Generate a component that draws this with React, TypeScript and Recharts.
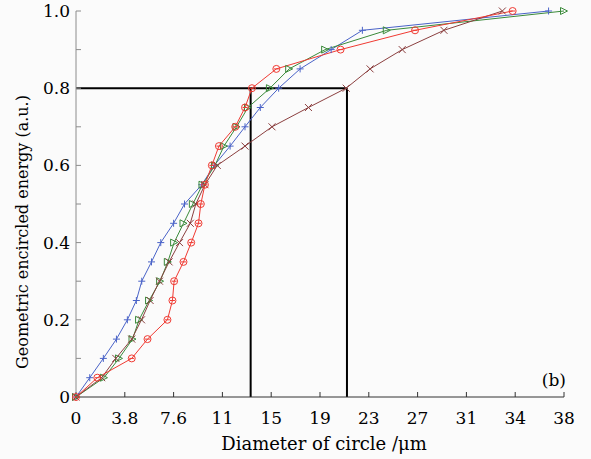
import React from 'react';
import { LineChart, Line, XAxis, YAxis, ReferenceLine, Label } from 'recharts';

// encircled energy levels shared by every curve
const energyLevels = [
  0, 0.05, 0.1, 0.15, 0.2, 0.25, 0.3, 0.35, 0.4, 0.45, 0.5,
  0.55, 0.6, 0.65, 0.7, 0.75, 0.8, 0.85, 0.9, 0.95, 1.0,
];

// diameter (um) reached at each energy level
const blueDiameters = [
  0, 1.07, 2.13, 3.15, 4.0, 4.7, 5.12, 5.88, 6.6, 7.6, 8.45,
  9.8, 10.76, 12.0, 13.16, 14.35, 15.78, 17.45, 19.87, 22.3, 36.8,
];
const redDiameters = [
  0, 1.66, 4.34, 5.57, 7.12, 7.51, 7.64, 8.37, 8.97, 9.54, 9.72,
  10.04, 10.58, 11.13, 12.4, 13.16, 13.7, 15.6, 20.6, 26.4, 34.0,
];
const greenDiameters = [
  0, 2.18, 3.35, 4.4, 4.91, 5.69, 6.55, 7.15, 7.64, 8.37, 9.1,
  9.85, 10.82, 11.52, 12.5, 13.39, 15.1, 16.6, 19.4, 24.2, 38.0,
];
const brownDiameters = [
  0, 2.0, 3.1, 4.34, 5.1, 5.77, 6.5, 7.25, 8.06, 8.9, 9.33,
  10.04, 11.0, 13.16, 15.26, 18.1, 21.04, 22.9, 25.4, 28.65, 33.2,
];

const xTicks = [0, 3.8, 7.6, 11.4, 15.2, 19, 22.8, 26.6, 30.4, 34.2, 38];
const xTickLabels = ['0', '3.8', '7.6', '11', '15', '19', '23', '27', '31', '34', '38'];
const yTicks = [0, 0.1, 0.2, 0.3, 0.4, 0.5, 0.6, 0.7, 0.8, 0.9, 1.0];
const yTickLabels = ['0', '', '0.2', '', '0.4', '', '0.6', '', '0.8', '', '1.0'];

// guide lines at 80% energy
const guideEnergy = 0.8;
const guideDiameterA = 13.6;
const guideDiameterB = 21.1;

const FONT = 'DejaVu Serif';

const toPoints = (diameters: number[]) =>
  diameters.map((d, i) => ({ x: d, y: energyLevels[i] }));

const series = [
  { key: 'blue', color: '#4a63c8', shape: 'plus', data: toPoints(blueDiameters) },
  { key: 'green', color: '#3a8a3a', shape: 'triangle', data: toPoints(greenDiameters) },
  { key: 'brown', color: '#8b3f3f', shape: 'cross', data: toPoints(brownDiameters) },
  { key: 'red', color: '#f03a32', shape: 'circle', data: toPoints(redDiameters) },
];

const renderMarker = (shape: string, color: string) => (props: any) => {
  const { cx, cy, index } = props;
  if (cx == null || cy == null) return <g key={index} />;
  const s = 3.5;
  if (shape === 'plus') {
    return (
      <g key={index} stroke={color} strokeWidth={1}>
        <line x1={cx - s} y1={cy} x2={cx + s} y2={cy} />
        <line x1={cx} y1={cy - s} x2={cx} y2={cy + s} />
      </g>
    );
  }
  if (shape === 'cross') {
    return (
      <g key={index} stroke={color} strokeWidth={1}>
        <line x1={cx - s} y1={cy - s} x2={cx + s} y2={cy + s} />
        <line x1={cx - s} y1={cy + s} x2={cx + s} y2={cy - s} />
      </g>
    );
  }
  if (shape === 'triangle') {
    return (
      <polygon
        key={index}
        points={`${cx - s},${cy - s} ${cx + s},${cy} ${cx - s},${cy + s}`}
        fill="none"
        stroke={color}
        strokeWidth={1}
      />
    );
  }
  return (
    <g key={index} stroke={color} strokeWidth={1} fill="none">
      <circle cx={cx} cy={cy} r={s} />
      <line x1={cx - s + 1} y1={cy} x2={cx + s - 1} y2={cy} />
    </g>
  );
};

const App: React.FC = () => {
  return (
    <div
      style={{
        position: 'absolute',
        left: 0,
        top: 0,
        width: 591,
        height: 459,
        background: '#fbfbfb',
      }}
    >
      <LineChart
        width={591}
        height={459}
        margin={{ top: 11, right: 27, bottom: 0, left: 0 }}
      >
        <XAxis
          type="number"
          dataKey="x"
          domain={[0, 38]}
          ticks={xTicks}
          interval={0}
          tickFormatter={(v: number) => xTickLabels[xTicks.indexOf(v)] ?? ''}
          height={62}
          tickSize={-5}
          tickMargin={20}
          stroke="#333"
          tick={{ fill: '#000', fontSize: 17, fontFamily: FONT }}
        >
          <Label
            content={() => (
              <text
                x={324}
                y={450}
                textAnchor="middle"
                fontFamily={FONT}
                fontSize={18}
                fill="#000"
              >
                Diameter of circle /μm
              </text>
            )}
          />
        </XAxis>
        <YAxis
          type="number"
          dataKey="y"
          domain={[0, 1]}
          ticks={yTicks}
          interval={0}
          tickFormatter={(v: number) => yTickLabels[yTicks.indexOf(v)] ?? ''}
          width={76}
          tickSize={-5}
          tickMargin={11}
          stroke="#8c8c8c"
          tick={{ fill: '#000', fontSize: 17, fontFamily: FONT }}
        >
          <Label
            content={() => (
              <text
                x={22}
                y={232}
                transform="rotate(-90 22 232)"
                textAnchor="middle"
                dominantBaseline="central"
                fontFamily={FONT}
                fontSize={16}
                fill="#000"
              >
                Geometric encircled energy (a.u.)
              </text>
            )}
          />
        </YAxis>

        <ReferenceLine
          segment={[
            { x: 0, y: guideEnergy },
            { x: guideDiameterB, y: guideEnergy },
          ]}
          stroke="#000"
          strokeWidth={2}
        />
        <ReferenceLine
          segment={[
            { x: guideDiameterA, y: 0 },
            { x: guideDiameterA, y: guideEnergy },
          ]}
          stroke="#000"
          strokeWidth={2}
        />
        <ReferenceLine
          segment={[
            { x: guideDiameterB, y: 0 },
            { x: guideDiameterB, y: guideEnergy },
          ]}
          stroke="#000"
          strokeWidth={2}
        />

        {series.map((s) => (
          <Line
            key={s.key}
            data={s.data}
            dataKey="y"
            type="linear"
            stroke={s.color}
            strokeWidth={1}
            dot={renderMarker(s.shape, s.color)}
            activeDot={false}
            isAnimationActive={false}
          />
        ))}

        <ReferenceLine
          y={0}
          stroke="none"
          label={{
            content: () => (
              <text
                x={566}
                y={386}
                textAnchor="end"
                fontFamily={FONT}
                fontSize={17}
                fill="#000"
              >
                (b)
              </text>
            ),
          }}
        />
      </LineChart>
    </div>
  );
};

export default App;
